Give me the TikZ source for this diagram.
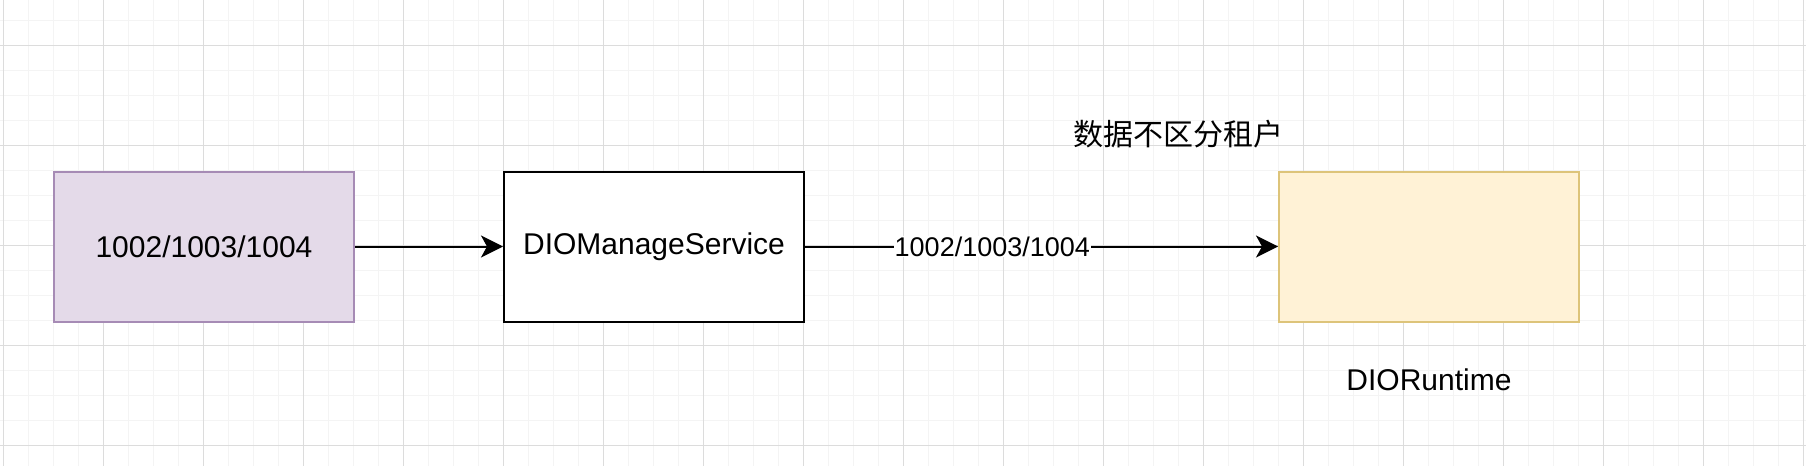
\documentclass[tikz,border=0pt]{standalone}
\usepackage{fontspec}
\setmainfont{Liberation Sans}
\newfontfamily\cjk{Noto Sans CJK SC}
\usetikzlibrary{arrows.meta}
\definecolor{gridminor}{HTML}{F4F4F4}
\definecolor{gridmajor}{HTML}{DCDCDC}
\definecolor{purplefill}{HTML}{E4DAE9}
\definecolor{purpleline}{HTML}{A68BB5}
\definecolor{yellowfill}{HTML}{FFF2D6}
\definecolor{yellowline}{HTML}{DDC47A}
\tikzset{
  box/.style={rectangle, draw, line width=2pt, minimum width=300pt, minimum height=150pt, inner sep=0pt, font=\fontsize{30}{36}\selectfont},
  conn/.style={line width=2pt, -{Stealth[length=22pt, width=22pt, inset=6pt]}},
  txt/.style={font=\fontsize{30}{36}\selectfont, inner sep=0pt},
  elabel/.style={font=\fontsize{27}{32}\selectfont, fill=white, inner sep=1pt}
}
\begin{document}
\begin{tikzpicture}[x=1pt, y=-1pt]
\useasboundingbox (0,0) rectangle (1806,466);
\fill[white] (0,0) rectangle (1806,466);
% grid
\foreach \x in {3,28,...,1806} \draw[gridminor, line width=1pt] (\x,0) -- (\x,466);
\foreach \y in {20,45,...,466} \draw[gridminor, line width=1pt] (0,\y) -- (1806,\y);
\foreach \x in {3,103,...,1806} \draw[gridmajor, line width=1pt] (\x,0) -- (\x,466);
\foreach \y in {45,145,...,466} \draw[gridmajor, line width=1pt] (0,\y) -- (1806,\y);
% nodes
\node[box, draw=purpleline, fill=purplefill] (src) at (204,246.5) {1002/1003/1004};
\node[box, draw=black, fill=white] (svc) at (654,246.5) {DIOManageService};
\node[box, draw=yellowline, fill=yellowfill] (rt) at (1429,246.5) {};
\node[txt] (note) at (1178,134) {\cjk 数据不区分租户};
\node[txt] (rtlabel) at (1429,380) {DIORuntime};
% connectors
\draw[conn] (src) -- (svc);
\draw[conn] (svc) -- node[elabel, pos=0.396] (elab) {1002/1003/1004} (rt);
\end{tikzpicture}
\end{document}
